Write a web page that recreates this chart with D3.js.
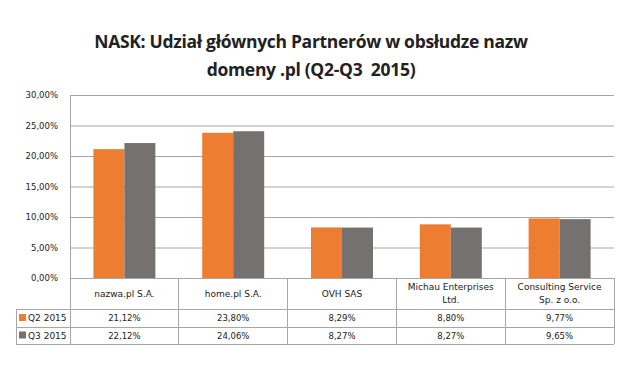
<!DOCTYPE html>
<html>
<head>
<meta charset="utf-8">
<script src="https://cdn.jsdelivr.net/npm/d3@7"></script>
<style>
  body { margin: 0; background: #fff; }
  svg text { font-family: "DejaVu Sans", sans-serif; fill: #222; }
</style>
</head>
<body>
<svg id="chart" width="630" height="379"></svg>
<script>
// data
var categories = ['nazwa.pl S.A.', 'home.pl S.A.', 'OVH SAS', 'Michau Enterprises\nLtd.', 'Consulting Service\nSp. z o.o.'];
var seriesNames = ['Q2 2015', 'Q3 2015'];
var q2 = [0.2112, 0.2380, 0.0829, 0.0880, 0.0977];
var q3 = [0.2212, 0.2406, 0.0827, 0.0827, 0.0965];
var yTicks = [0, 0.05, 0.10, 0.15, 0.20, 0.25, 0.30];
var colors = ['#ED7D31', '#767171'];

draw();

function draw() {
	var svg = d3.select('#chart'),
		plotLeft = 70, plotRight = 614, plotTop = 95, plotBottom = 278,
		rowTops = [278, 309, 327, 344], legendLeft = 16,
		gridColor = '#a6a6a6';

	var pl = d3.formatLocale({decimal: ',', thousands: ' ', grouping: [3], currency: ['', ' zł']});
	var fmt = pl.format('.2%');

	var x0 = d3.scaleBand().domain(categories).range([plotLeft, plotRight]);
	var x1 = d3.scaleBand().domain(seriesNames).range([0, x0.bandwidth()]).paddingOuter(0.755);
	var y = d3.scaleLinear().domain([0, 0.30]).range([plotBottom, plotTop]);
	var values = [q2, q3];

	// title
	var title = svg.append('g').attr('font-weight', 'bold');
	['NASK: Udział głównych Partnerów w obsłudze nazw', 'domeny .pl (Q2-Q3  2015)'].forEach(function(t, i){
		title.append('text')
			.attr('x', 311).attr('y', 48 + i * 28)
			.attr('text-anchor', 'middle')
			.style('font-family', '"Open Sans", sans-serif')
			.style('font-size', '17.5px')
			.style('white-space', 'pre')
			.attr('letter-spacing', '-0.3')
			.text(t);
	});

	// grid + y axis
	var yAxis = d3.axisLeft(y).tickValues(yTicks).tickSize(-(plotRight - plotLeft)).tickPadding(12).tickFormat(fmt);
	var gy = svg.append('g').attr('transform', 'translate(' + plotLeft + ',0)').call(yAxis);
	gy.select('.domain').remove();
	gy.selectAll('.tick line').attr('stroke', gridColor);
	gy.selectAll('.tick text').style('font-size', '8.5px').style('font-family', '"DejaVu Sans", sans-serif').attr('fill', '#222');

	// bars
	var groups = svg.append('g').selectAll('g')
		.data(categories)
		.join('g')
		.attr('transform', function(d){ return 'translate(' + x0(d) + ',0)'; });

	groups.selectAll('rect')
		.data(function(d, i){
			return seriesNames.map(function(s, j){ return {s: s, v: values[j][i], c: colors[j]}; });
		})
		.join('rect')
		.attr('x', function(d){ return x1(d.s); })
		.attr('width', x1.bandwidth())
		.attr('y', function(d){ return y(d.v); })
		.attr('height', function(d){ return y(0) - y(d.v); })
		.attr('fill', function(d){ return d.c; });

	// table lines
	var lines = svg.append('g').attr('stroke', gridColor).attr('stroke-width', 1).attr('shape-rendering', 'crispEdges');
	lines.append('line').attr('x1', plotLeft).attr('x2', plotLeft).attr('y1', plotTop).attr('y2', rowTops[3]);
	lines.append('line').attr('x1', plotLeft).attr('x2', plotRight).attr('y1', plotBottom).attr('y2', plotBottom);
	[1, 2, 3].forEach(function(r){
		lines.append('line').attr('x1', legendLeft).attr('x2', plotRight).attr('y1', rowTops[r]).attr('y2', rowTops[r]);
	});
	lines.append('line').attr('x1', legendLeft).attr('x2', legendLeft).attr('y1', rowTops[1]).attr('y2', rowTops[3]);
	categories.forEach(function(c){
		var xr = x0(c) + x0.bandwidth();
		lines.append('line').attr('x1', xr).attr('x2', xr).attr('y1', plotBottom).attr('y2', rowTops[3]);
	});

	// category labels
	categories.forEach(function(c){
		var parts = c.split('\n'),
			cx = x0(c) + x0.bandwidth() / 2,
			mid = (rowTops[0] + rowTops[1]) / 2;
		parts.forEach(function(p, i){
			svg.append('text')
				.attr('x', cx)
				.attr('y', mid + 3 + (i - (parts.length - 1) / 2) * 13)
				.attr('text-anchor', 'middle')
				.style('font-size', '9px')
				.text(p);
		});
	});

	// value rows + legend keys
	seriesNames.forEach(function(s, j){
		var yMid = (rowTops[j + 1] + rowTops[j + 2]) / 2;
		svg.append('rect')
			.attr('x', legendLeft + 3).attr('y', yMid - 4)
			.attr('width', 7).attr('height', 7)
			.attr('fill', colors[j]);
		svg.append('text')
			.attr('x', legendLeft + 12).attr('y', yMid + 3)
			.style('font-size', '9px')
			.text(s);
		categories.forEach(function(c, i){
			svg.append('text')
				.attr('x', x0(c) + x0.bandwidth() / 2)
				.attr('y', yMid + 3)
				.attr('text-anchor', 'middle')
				.style('font-size', '8.5px')
				.text(fmt(values[j][i]));
		});
	});
}
</script>
</body>
</html>
